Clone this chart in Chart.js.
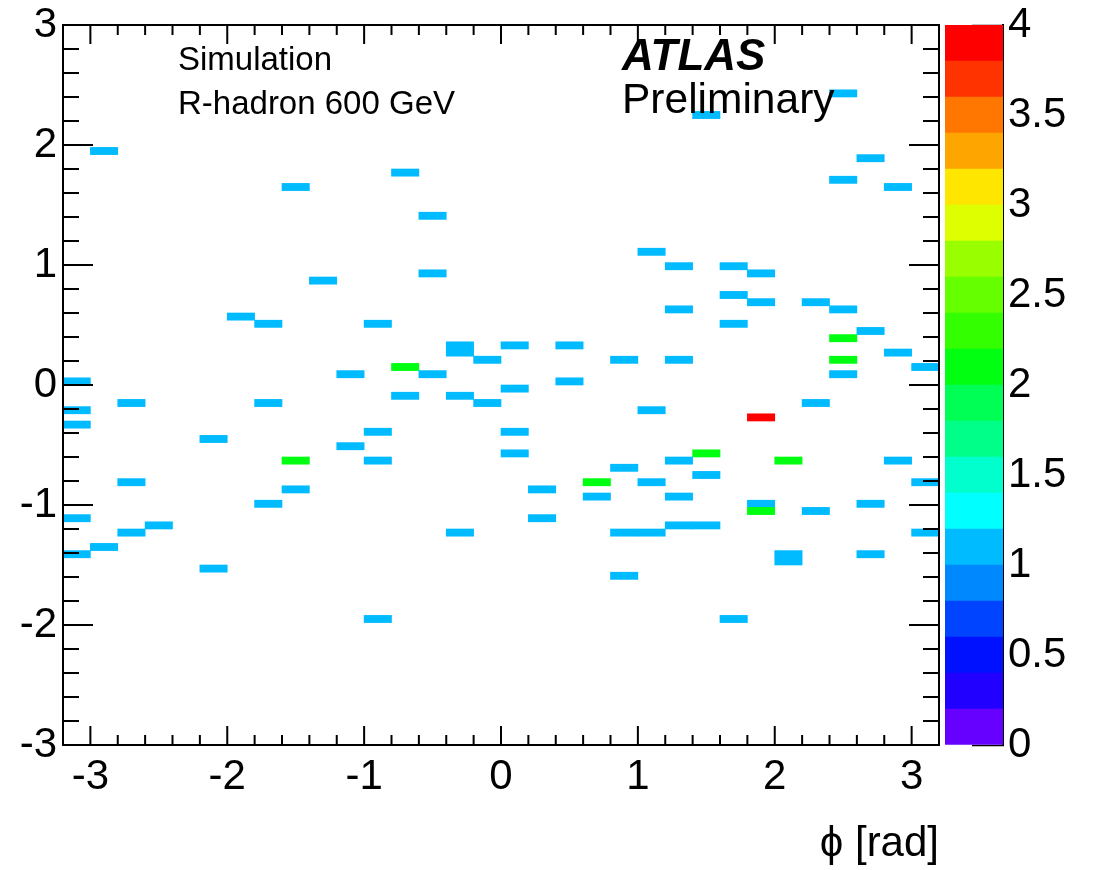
<!DOCTYPE html>
<html>
<head>
<meta charset="utf-8">
<script src="https://cdn.jsdelivr.net/npm/chart.js@4.4.1/dist/chart.umd.min.js"></script>
<style>
  html, body { margin: 0; padding: 0; background: #fff; }
  #wrap { position: relative; width: 1096px; height: 870px; }
  #main { position: absolute; left: 0; top: 0; }
  #zbar { position: absolute; left: 930px; top: 0; }
</style>
</head>
<body>
<div id="wrap">
  <canvas id="main" width="1096" height="870"></canvas>
  <canvas id="zbar" width="166" height="870"></canvas>
</div>
<script>
// filled cells: bin centre in phi [rad], bin centre in eta, entries
const cellPhi = [2.5, 1.5, -2.9, 2.7, -0.7, 2.5, -1.5, 2.9, -0.5, 1.1,
  1.3, 1.7, -0.5, 1.9, -1.3, 1.7, 1.9, 2.3, 1.3, 2.5,
  -1.9, -1.7, -0.9, 1.7, 2.7, 2.5, -0.3, 0.1, 0.5, -0.3,
  2.9, -0.1, 0.9, 1.3, 2.5, -0.7, 3.1, -1.1, -0.5, 2.5,
  -3.1, 0.5, 0.1, -0.7, -0.3, -2.7, -1.7, -0.1, 2.3, -3.1,
  1.1, 1.9, -3.1, -0.9, 0.1, -2.1, -1.1, 0.1, 1.5, -1.5,
  -0.9, 1.3, 2.1, 2.9, 0.9, 1.5, -2.7, 0.7, 1.1, 3.1,
  -1.5, 0.3, 0.7, 1.3, -1.7, 1.9, 2.7, 1.9, 2.3, -3.1,
  0.3, -2.5, 1.3, 1.5, -2.7, -0.3, 0.9, 1.1, 3.1, -2.9,
  -3.1, 2.1, 2.7, 2.1, -2.1, 0.9, -0.9, 1.7];
const cellEta = [2.43, 2.25, 1.95, 1.89, 1.77, 1.71, 1.65, 1.65, 1.41, 1.11,
  0.99, 0.99, 0.93, 0.93, 0.87, 0.75, 0.69, 0.69, 0.63, 0.63,
  0.57, 0.51, 0.51, 0.51, 0.45, 0.39, 0.33, 0.33, 0.33, 0.27,
  0.27, 0.21, 0.21, 0.21, 0.21, 0.15, 0.15, 0.09, 0.09, 0.09,
  0.03, 0.03, -0.03, -0.09, -0.09, -0.15, -0.15, -0.15, -0.15, -0.21,
  -0.21, -0.27, -0.33, -0.39, -0.39, -0.45, -0.51, -0.57, -0.57, -0.63,
  -0.63, -0.63, -0.63, -0.63, -0.69, -0.75, -0.81, -0.81, -0.81, -0.81,
  -0.87, -0.87, -0.93, -0.93, -0.99, -0.99, -0.99, -1.05, -1.05, -1.11,
  -1.11, -1.17, -1.17, -1.17, -1.23, -1.23, -1.23, -1.23, -1.23, -1.35,
  -1.41, -1.41, -1.41, -1.47, -1.53, -1.59, -1.95, -1.95];
const cellCount = [1, 1, 1, 1, 1, 1, 1, 1, 1, 1,
  1, 1, 1, 1, 1, 1, 1, 1, 1, 1,
  1, 1, 1, 1, 1, 2, 1, 1, 1, 1,
  1, 1, 1, 1, 2, 2, 1, 1, 1, 1,
  1, 1, 1, 1, 1, 1, 1, 1, 1, 1,
  1, 4, 1, 1, 1, 1, 1, 1, 2, 2,
  1, 1, 2, 1, 1, 1, 1, 2, 1, 1,
  1, 1, 1, 1, 1, 1, 1, 2, 1, 1,
  1, 1, 1, 1, 1, 1, 1, 1, 1, 1,
  1, 1, 1, 1, 1, 1, 1, 1];

// axis labels
const xTicks = [-3, -2, -1, 0, 1, 2, 3];
const yTicks = [-3, -2, -1, 0, 1, 2, 3];
const zTicks = [0, 0.5, 1, 1.5, 2, 2.5, 3, 3.5, 4];

// palette, one colour per 0.2 step of z, from 0 up to 4
const zPalette = ['#6600ff', '#2200ff', '#0011ff', '#0044ff', '#0088ff',
  '#00bbff', '#00ffff', '#00ffcc', '#00ff88', '#00ff55',
  '#00ff11', '#33ff00', '#66ff00', '#99ff00', '#ddff00',
  '#ffe600', '#ffa500', '#ff7700', '#ff3300', '#ff0000'];

const ETA_BIN = 0.06;
const Z_STEP = 0.2;
const FONT = '"Liberation Sans", Arial, Helvetica, sans-serif';

Chart.defaults.font.family = FONT;
Chart.defaults.color = '#000';

function zColour(v) {
  let i = Math.floor(v / Z_STEP + 1e-9);
  i = Math.max(0, Math.min(zPalette.length - 1, i));
  return zPalette[i];
}

// keep the label overhang from moving the plot frame
function noOverhang(s) {
  s.paddingTop = 0; s.paddingBottom = 0;
  s.paddingLeft = 0; s.paddingRight = 0;
}

const cells = cellPhi.map((p, i) => ({ x: p, y: [cellEta[i] - ETA_BIN / 2, cellEta[i] + ETA_BIN / 2] }));

// ROOT style frame with inward ticks
const frameTicks = {
  id: 'frameTicks',
  afterDraw(chart) {
    const { ctx, chartArea: a, scales: { x, y } } = chart;
    ctx.save();
    ctx.strokeStyle = '#000';
    ctx.lineWidth = 2;
    ctx.beginPath();
    for (let k = -15; k <= 15; k++) {
      const px = x.getPixelForValue(k * 0.2);
      const len = k % 5 === 0 ? 19 : 10;
      ctx.moveTo(px, a.bottom); ctx.lineTo(px, a.bottom - len);
      ctx.moveTo(px, a.top); ctx.lineTo(px, a.top + len);
    }
    for (let k = -14; k <= 14; k++) {
      const py = y.getPixelForValue(k * 0.2);
      const len = k % 5 === 0 ? 30 : 16;
      ctx.moveTo(a.left, py); ctx.lineTo(a.left + len, py);
      ctx.moveTo(a.right, py); ctx.lineTo(a.right - len, py);
    }
    ctx.stroke();
    ctx.strokeRect(a.left, a.top, a.right - a.left, a.bottom - a.top);
    ctx.restore();
  }
};

const labels = {
  id: 'labels',
  afterDatasetsDraw(chart) {
    const ctx = chart.ctx;
    ctx.save();
    ctx.fillStyle = '#000';
    ctx.textBaseline = 'alphabetic';
    ctx.textAlign = 'left';
    ctx.font = '33px ' + FONT;
    ctx.fillText('Simulation', 178, 70);
    ctx.fillText('R-hadron 600 GeV', 178, 114);
    ctx.font = 'italic bold 44px ' + FONT;
    ctx.fillText('ATLAS', 622, 70);
    ctx.font = '42.5px ' + FONT;
    ctx.fillText('Preliminary', 622, 113);
    ctx.restore();
  }
};

new Chart(document.getElementById('main'), {
  type: 'bar',
  data: {
    datasets: [{
      data: cells,
      backgroundColor: c => zColour(cellCount[c.dataIndex]),
      borderWidth: 0,
      grouped: false,
      barPercentage: 1,
      categoryPercentage: 1
    }]
  },
  options: {
    responsive: false,
    animation: false,
    devicePixelRatio: 1,
    layout: { padding: { left: 0, top: 25, right: 157, bottom: 0 } },
    plugins: { legend: { display: false }, tooltip: { enabled: false } },
    scales: {
      x: {
        type: 'linear',
        offset: false,
        min: -3.2,
        max: 3.2,
        afterBuildTicks: s => { s.ticks = xTicks.map(v => ({ value: v })); },
        afterFit: s => { s.height = 125; noOverhang(s); },
        grid: { display: false, drawTicks: false, offset: false },
        border: { display: false },
        ticks: { font: { size: 42 }, padding: 7, color: '#000', maxRotation: 0, autoSkip: false, callback: v => String(v) },
        title: { display: true, text: 'ϕ [rad]', align: 'end', font: { size: 42 }, color: '#000', padding: { top: 0, bottom: 0 } }
      },
      y: {
        type: 'linear',
        min: -3,
        max: 3,
        afterBuildTicks: s => { s.ticks = yTicks.map(v => ({ value: v })); },
        afterFit: s => { s.width = 63; noOverhang(s); },
        grid: { display: false, drawTicks: false },
        border: { display: false },
        ticks: { font: { size: 42 }, padding: 6, color: '#000', autoSkip: false, callback: v => String(v) }
      }
    }
  },
  plugins: [labels, frameTicks]
});

// colour scale
new Chart(document.getElementById('zbar'), {
  type: 'bar',
  data: {
    labels: [''],
    datasets: zPalette.map(c => ({
      data: [Z_STEP],
      backgroundColor: c,
      borderWidth: 0,
      barPercentage: 1,
      categoryPercentage: 1
    }))
  },
  options: {
    responsive: false,
    animation: false,
    devicePixelRatio: 1,
    layout: { padding: { left: 15, top: 25, right: 0, bottom: 125 } },
    plugins: { legend: { display: false }, tooltip: { enabled: false } },
    scales: {
      x: { display: false, stacked: true },
      y: {
        position: 'right',
        stacked: true,
        min: 0,
        max: 4,
        z: 1,
        afterBuildTicks: s => { s.ticks = zTicks.map(v => ({ value: v })); },
        afterFit: s => { s.width = 93; noOverhang(s); },
        grid: { drawOnChartArea: false, drawTicks: true, tickLength: -31, tickColor: '#000', tickWidth: 1.5 },
        border: { display: true, color: '#000', width: 2 },
        ticks: { font: { size: 42 }, padding: 36, color: '#000', autoSkip: false, callback: v => String(v) }
      }
    }
  }
});
</script>
</body>
</html>
